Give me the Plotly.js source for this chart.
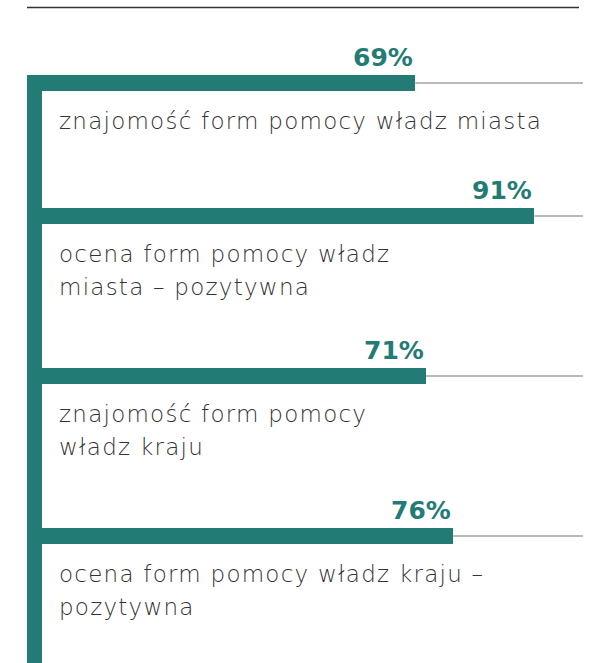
<!DOCTYPE html>
<html>
<head>
<meta charset="utf-8">
<script src="https://cdn.plot.ly/plotly-3.0.1.min.js"></script>
<style>
  html, body { margin: 0; padding: 0; background: #ffffff; }
  #chart { width: 595px; height: 663px; }
</style>
</head>
<body>
<div id="chart"></div>
<script>
// ---- data ----
const categories = [
  "znajomość form pomocy władz miasta",
  "ocena form pomocy władz\nmiasta – pozytywna",
  "znajomość form pomocy\nwładz kraju",
  "ocena form pomocy władz kraju –\npozytywna"
];
const values = [69, 91, 71, 76];
const valueLabels = ["69%", "91%", "71%", "76%"];
const maxValue = 100;

// ---- styling / layout constants ----
const TEAL = "#237b75";
const GREY_LINE = "#a3a3a3";
const TEXT_COLOR = "#333333";
const W = 595, H = 663;
const PX_PER_UNIT = 5.41;       // pixels per percentage point
const ZERO_PX = 42;             // pixel x of 0%
const BAR_H = 16;
const FIRST_CENTER = 83;
const ROW_BASE = 106, ROW_PER_LINE = 27;
const LINE_GAP = 33;
const CAT_SIZE = 23;

const xLeft = -ZERO_PX / PX_PER_UNIT;
const xRight = (W - ZERO_PX) / PX_PER_UNIT;
const px2x = p => (p - ZERO_PX) / PX_PER_UNIT;

// row centers computed from number of label lines
const centers = [];
let c = FIRST_CENTER;
categories.forEach((cat, i) => {
  centers.push(c);
  c += ROW_BASE + ROW_PER_LINE * cat.split("\n").length;
});

const traces = [];
// grey remainder lines
values.forEach((v, i) => {
  traces.push({
    type: "scatter", mode: "lines",
    x: [v, maxValue], y: [centers[i], centers[i]],
    line: { color: GREY_LINE, width: 1.6 },
    hoverinfo: "skip", showlegend: false
  });
});
// bars
traces.push({
  type: "bar", orientation: "h",
  x: values, y: centers, base: 0,
  width: BAR_H,
  marker: { color: TEAL, line: { width: 0 } },
  hoverinfo: "skip", showlegend: false
});

const shapes = [
  // top rule
  { type: "line", xref: "x", yref: "y", x0: px2x(27), x1: px2x(579), y0: 7.5, y1: 7.5,
    line: { color: "#333333", width: 1.5 } },
  // vertical spine
  { type: "rect", xref: "x", yref: "y", x0: px2x(27), x1: 0,
    y0: centers[0] - BAR_H / 2, y1: H + 5,
    fillcolor: TEAL, line: { width: 0 }, layer: "above" }
];

const annotations = [];
values.forEach((v, i) => {
  annotations.push({
    x: v, y: centers[i] - BAR_H / 2 - 1, xref: "x", yref: "y",
    xanchor: "right", yanchor: "bottom", showarrow: false,
    text: valueLabels[i],
    font: { family: "'DejaVu Sans', sans-serif", size: 25, color: TEAL, weight: 700 }
  });
  categories[i].split("\n").forEach((line, k) => {
    annotations.push({
      x: px2x(57), y: centers[i] + 38 + k * LINE_GAP, xref: "x", yref: "y",
      xanchor: "left", yanchor: "middle", align: "left", showarrow: false,
      text: line,
      font: { family: "'DejaVu Sans', sans-serif", size: CAT_SIZE, color: TEXT_COLOR, weight: 200 }
    });
  });
});

const layout = {
  width: W, height: H,
  margin: { l: 0, r: 0, t: 0, b: 0, pad: 0 },
  paper_bgcolor: "#ffffff", plot_bgcolor: "#ffffff",
  xaxis: { range: [xLeft, xRight], visible: false, fixedrange: true },
  yaxis: { range: [H, 0], visible: false, fixedrange: true },
  bargap: 0,
  shapes: shapes,
  annotations: annotations,
  showlegend: false
};

Plotly.newPlot("chart", traces, layout, { displayModeBar: false, staticPlot: true }).then(() => {
  // widen the light category labels slightly (geometric wide typeface look)
  document.querySelectorAll("#chart .annotation-text").forEach(t => {
    if (parseFloat(t.style.fontSize) === CAT_SIZE) t.style.letterSpacing = "1.25px";
  });
});
</script>
</body>
</html>
